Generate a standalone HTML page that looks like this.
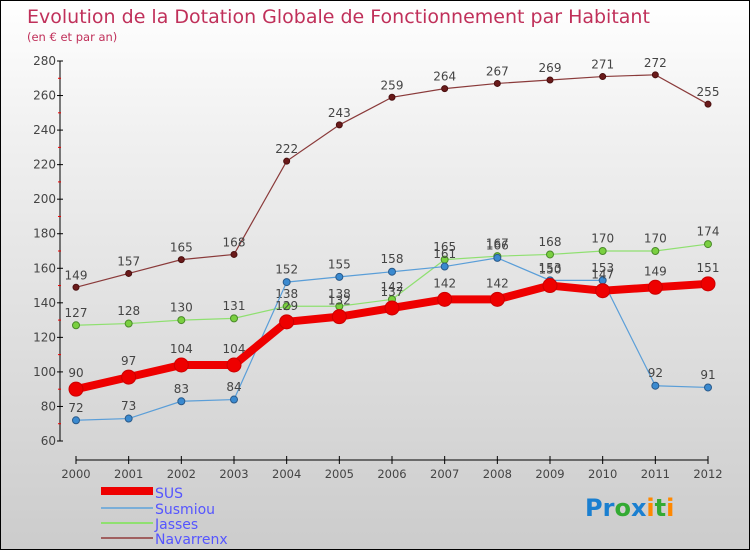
<!DOCTYPE html>
<html><head><meta charset="utf-8"><style>
body{margin:0;}
#c{width:748px;height:548px;border:1px solid #000;background:linear-gradient(#fff,#f0f0f0 25%,#ccc);position:relative;font-family:"DejaVu Sans","Liberation Sans",sans-serif;}
svg text{font-family:"DejaVu Sans","Liberation Sans",sans-serif;}
</style></head><body>
<div id="c">
<svg width="748" height="548">
<text x="26" y="22" font-size="19" fill="#c0305a">Evolution de la Dotation Globale de Fonctionnement par Habitant</text>
<text x="26" y="40" font-size="11.5" fill="#c0305a">(en € et par an)</text>
<g id="axes"></g><g id="series"></g>
<g>
<rect x="100" y="486" width="52" height="8" fill="#e00"/>
<text x="154" y="497" font-size="14" fill="#55f">SUS</text>
<rect x="100" y="506" width="52" height="2" fill="#7aaed8"/>
<text x="154" y="513" font-size="14" fill="#55f">Susmiou</text>
<rect x="100" y="521" width="52" height="2" fill="#8fe070"/>
<text x="154" y="528" font-size="14" fill="#55f">Jasses</text>
<rect x="100" y="536" width="52" height="2" fill="#a06060"/>
<text x="154" y="543" font-size="14" fill="#55f">Navarrenx</text>
</g>
<text x="584" y="515" font-size="24" font-weight="bold"><tspan fill="#1a7fd0">Pr</tspan><tspan fill="#3a3">o</tspan><tspan fill="#1a7fd0">x</tspan><tspan fill="#f80">i</tspan><tspan fill="#3a3">t</tspan><tspan fill="#f80">i</tspan></text>
</svg></div>
<script>
const years=[2000,2001,2002,2003,2004,2005,2006,2007,2008,2009,2010,2011,2012];
const yTicks=[60,80,100,120,140,160,180,200,220,240,260,280];
const sus=[90,97,104,104,129,132,137,142,142,150,147,149,151];
const susmiou=[72,73,83,84,152,155,158,161,166,153,153,92,91];
const jasses=[127,128,130,131,138,138,142,165,167,168,170,170,174];
const navarrenx=[149,157,165,168,222,243,259,264,267,269,271,272,255];
const NS="http://www.w3.org/2000/svg";
const X=i=>75+i*(707-75)/(years.length-1);
const Y=v=>440-(v-60)*(380/220);
function mk(t,a,p){const e=document.createElementNS(NS,t);for(const k in a)e.setAttribute(k,a[k]);p.appendChild(e);return e;}
const ax=document.getElementById('axes');
let e=mk('line',{x1:59,y1:60,x2:59,y2:440,stroke:'#000'},ax);


e=mk('line',{x1:75,y1:459,x2:707,y2:459,stroke:'#000'},ax);


yTicks.forEach((v,i)=>{
 mk('line',{x1:56,y1:Y(v),x2:62,y2:Y(v),stroke:'#000'},ax);
 if(i<yTicks.length-1) mk('line',{x1:57,y1:Y(v+10),x2:60,y2:Y(v+10),stroke:'#e00'},ax);
 const t=mk('text',{x:55,y:Y(v)+4,'font-size':12,'text-anchor':'end',fill:'#444'},ax);t.textContent=v;
 
 
});
years.forEach((y,i)=>{
 mk('line',{x1:X(i),y1:455,x2:X(i),y2:463,stroke:'#000'},ax);
 const t=mk('text',{x:X(i),y:464+13,'font-size':11.5,'text-anchor':'middle',fill:'#444'},ax);t.textContent=y;
 
 
});
const sg=document.getElementById('series');
function draw(name,d,col,w,r,dot,stroke){
 const g=mk('g',{},sg);
 
 
 mk('polyline',{points:d.map((v,i)=>X(i)+','+Y(v)).join(' '),fill:'none',stroke:col,'stroke-width':w},g);
 d.forEach((v,i)=>{
  const c=mk('circle',{cx:X(i),cy:Y(v),r:r,fill:dot,stroke:stroke,'stroke-width':1},g);
  
  
  const t=mk('text',{x:X(i),y:Y(v)-r-5,'font-size':12,'text-anchor':'middle',fill:'#444'},g);t.textContent=v;
  
  
 });
}
draw('navarrenx',navarrenx,'#8a3a3a',1.2,3,'#6a1a1a','#4a1010');
draw('jasses',jasses,'#8fe070',1.2,3.5,'#7ad040','#4a8a2a');
draw('susmiou',susmiou,'#5a9ed8',1.2,3.5,'#3a8ad0','#2a5a8a');
draw('sus',sus,'#e00',8,7,'#e00','#c00');
</script>
</body></html>
